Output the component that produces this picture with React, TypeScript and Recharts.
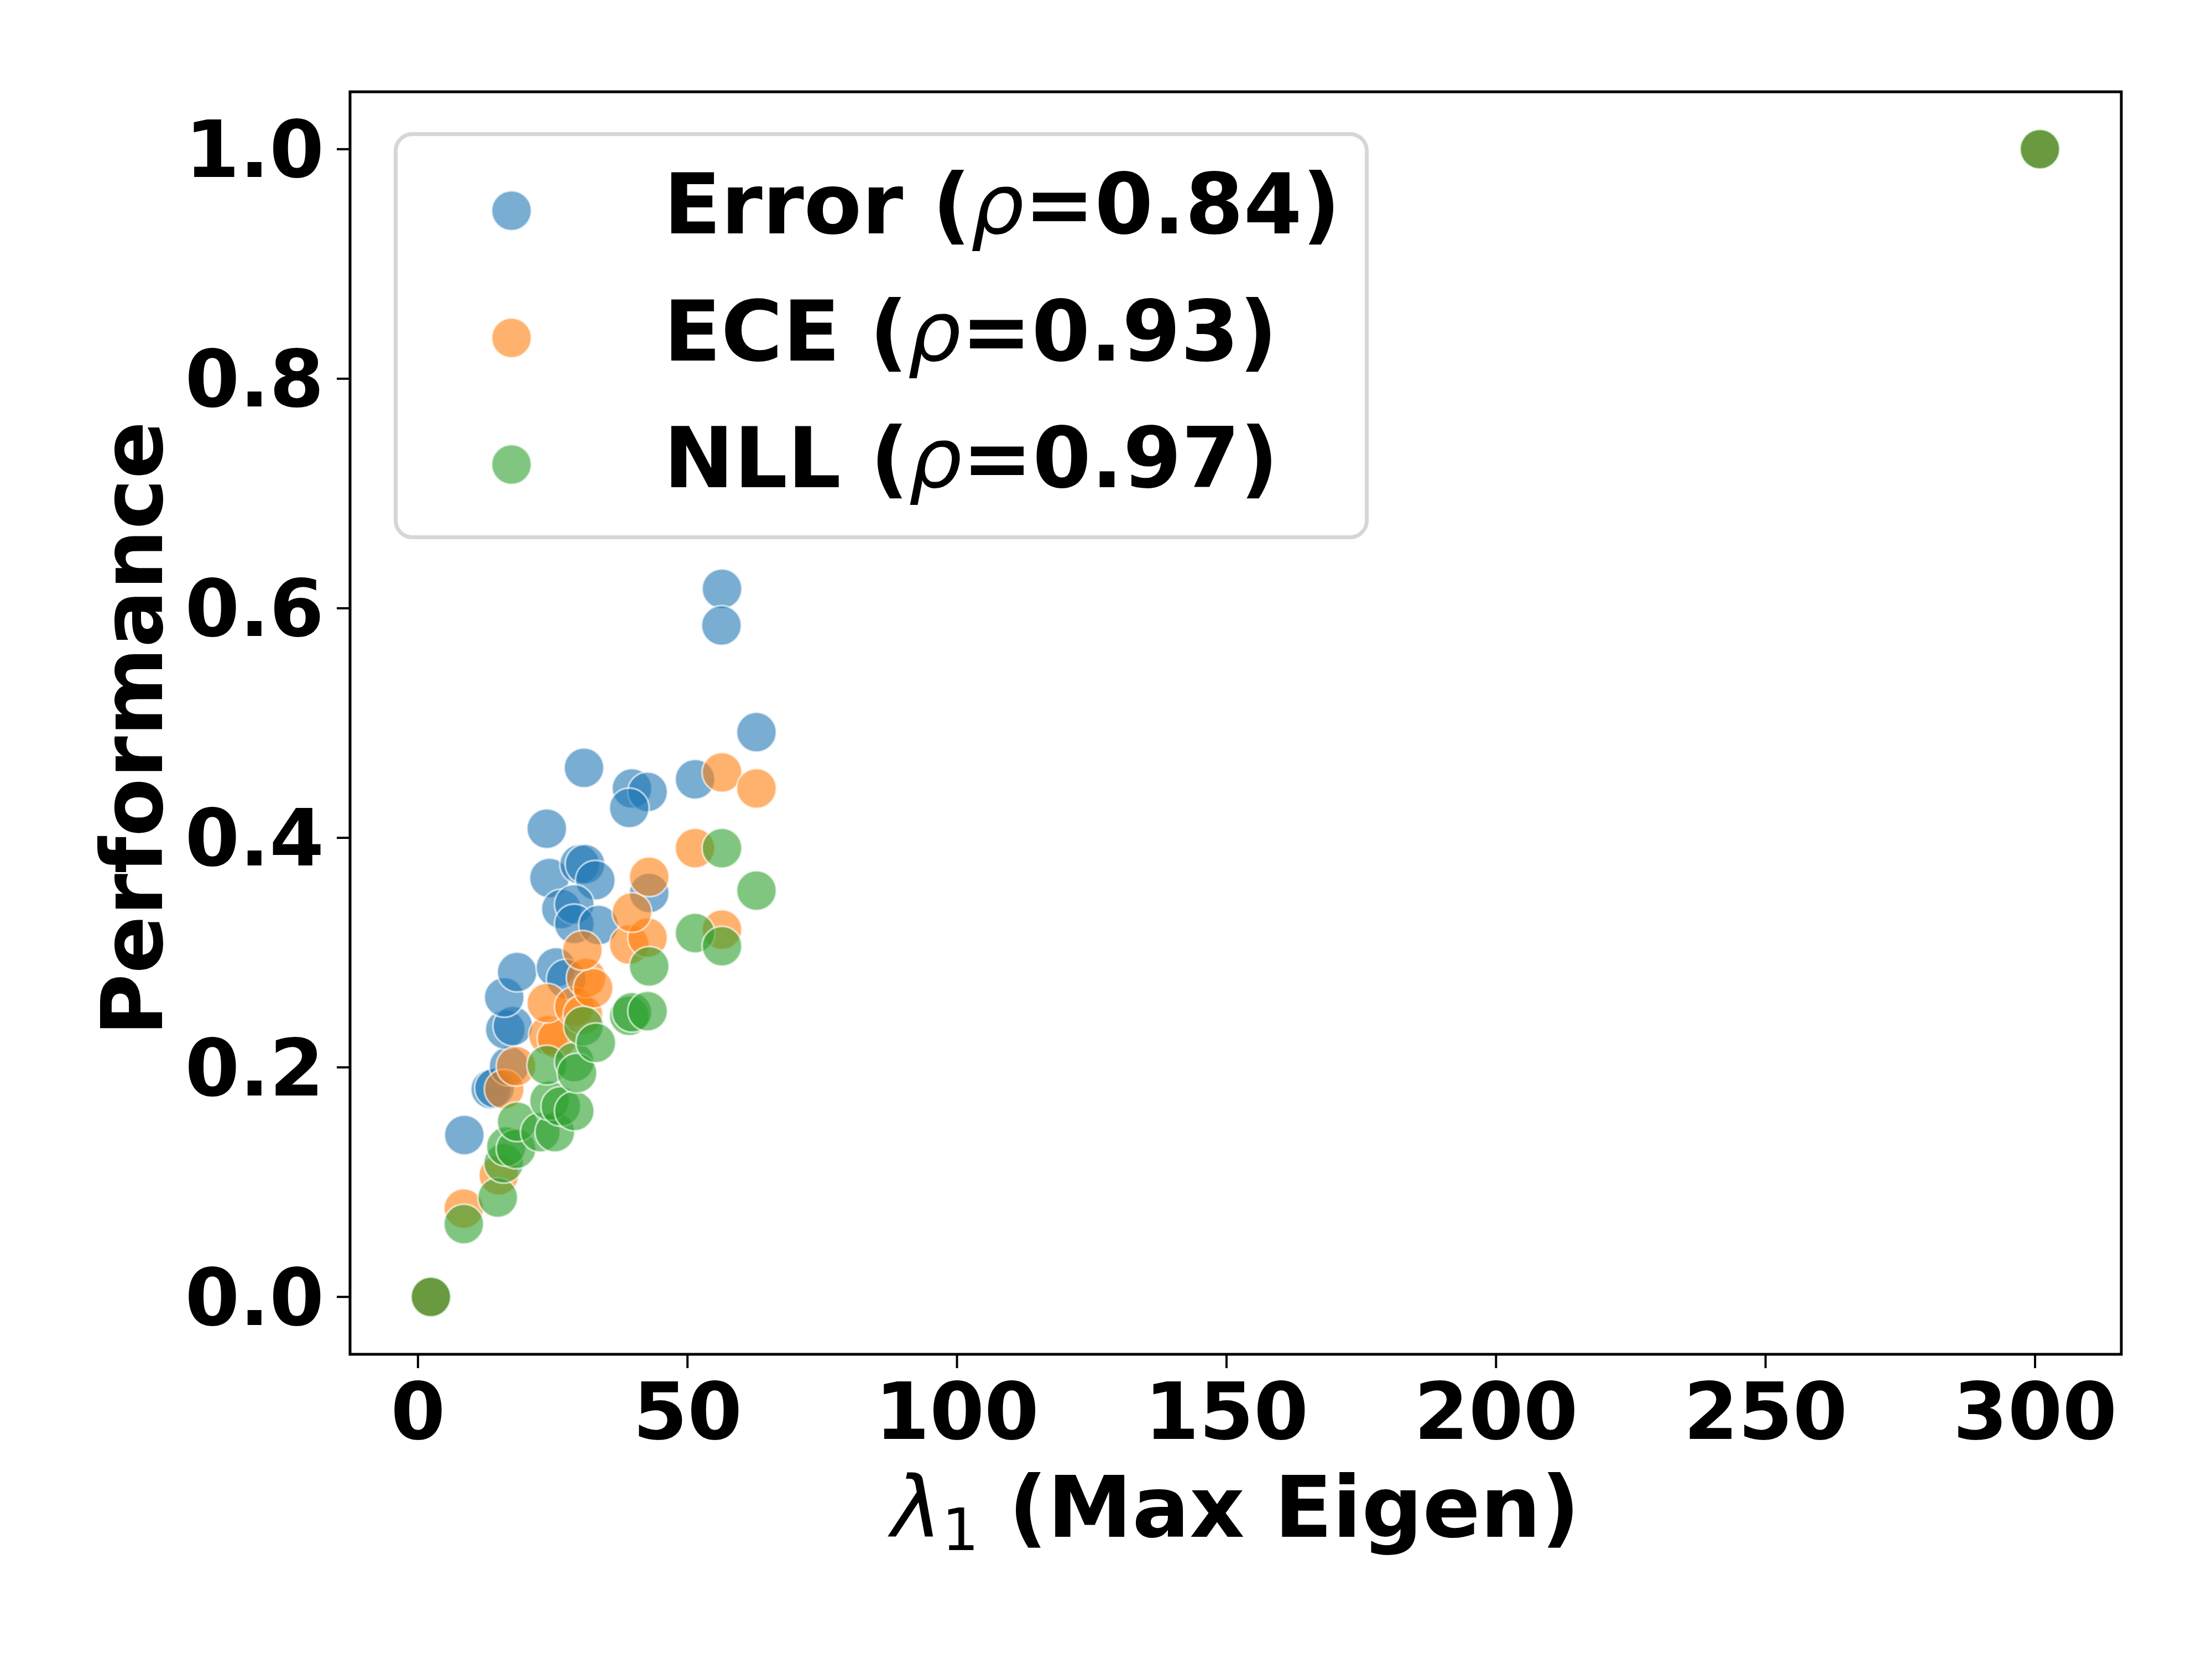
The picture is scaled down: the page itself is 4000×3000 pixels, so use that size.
import React from 'react';
import { ScatterChart, Scatter, XAxis, YAxis, ReferenceArea } from 'recharts';

// [lambda_1, normalised metric]
const errorPoints = [
  [2.4, 0], [8.6, 0.141], [13.5, 0.181], [14.2, 0.182], [16.9, 0.201], [16.2, 0.233],
  [17.6, 0.236], [16.0, 0.261], [18.4, 0.283], [25.6, 0.287], [27.5, 0.277], [23.9, 0.408],
  [24.4, 0.365], [30.0, 0.377], [31.0, 0.377], [32.9, 0.363], [26.6, 0.338], [29.0, 0.342],
  [29.0, 0.325], [33.5, 0.324], [30.8, 0.461], [39.7, 0.443], [42.6, 0.44], [39.2, 0.426],
  [42.9, 0.352], [51.4, 0.451], [56.4, 0.617], [56.3, 0.585], [62.8, 0.492], [300.9, 1.0],
];
const ecePoints = [
  [2.4, 0], [8.5, 0.077], [15.0, 0.106], [16.0, 0.181], [18.2, 0.201], [24.2, 0.228],
  [25.8, 0.225], [23.9, 0.256], [29.0, 0.253], [30.6, 0.246], [31.2, 0.278], [32.5, 0.269],
  [30.5, 0.302], [39.2, 0.307], [42.6, 0.313], [39.7, 0.335], [42.9, 0.366], [51.4, 0.391],
  [56.4, 0.457], [62.8, 0.443], [56.4, 0.32], [300.9, 1.0],
];
const nllPoints = [
  [2.4, 0], [8.5, 0.0635], [14.8, 0.0866], [15.9, 0.1165], [16.4, 0.131], [18.2, 0.129],
  [18.4, 0.1526], [22.7, 0.1436], [25.4, 0.1436], [24.4, 0.171], [26.5, 0.166], [29.0, 0.162],
  [23.9, 0.202], [29.0, 0.2046], [29.5, 0.195], [30.7, 0.236], [33.0, 0.2214], [39.2, 0.245],
  [39.7, 0.248], [42.6, 0.249], [42.9, 0.288], [51.4, 0.317], [56.4, 0.3056], [56.4, 0.391],
  [62.8, 0.354], [300.9, 1.0],
];

const seriesNames = ['Error', 'ECE', 'NLL'];
const seriesRho = ['0.84', '0.93', '0.97'];
const seriesColors = ['#1f77b4', '#ff7f0e', '#2ca02c'];
const seriesPoints = [errorPoints, ecePoints, nllPoints];

const xTicks = [0, 50, 100, 150, 200, 250, 300];
const yTicks = [0, 0.2, 0.4, 0.6, 0.8, 1.0];
const xDomain = [-12.6, 316];
const yDomain = [-0.05, 1.05];

const FONT = '"DejaVu Sans", sans-serif';

const toRows = (pts: number[][]) => pts.map(([x, y]) => ({ x, y }));

const makeDot = (color: string) => (props: any) => (
  <circle
    cx={props.cx}
    cy={props.cy}
    r={36}
    fill={color}
    fillOpacity={0.6}
    stroke="#ffffff"
    strokeOpacity={0.6}
    strokeWidth={3.5}
  />
);

const XLabel = ({ viewBox }: any) => {
  const cx = viewBox.x + viewBox.width / 2;
  const y = viewBox.y + 330;
  return (
    <text x={cx} y={y} textAnchor="middle" fontFamily={FONT} fontSize={154} fill="#000">
      <tspan fontStyle="italic" fontWeight="normal">λ</tspan>
      <tspan fontSize={105} fontWeight="normal" dy={24}>1</tspan>
      <tspan fontWeight="bold" dy={-24}> (Max Eigen)</tspan>
    </text>
  );
};

const YLabel = ({ viewBox }: any) => {
  const x = 293;
  const y = viewBox.y + viewBox.height / 2 + 10;
  return (
    <text
      x={x}
      y={y}
      transform={`rotate(-90, ${x}, ${y})`}
      textAnchor="middle"
      fontFamily={FONT}
      fontSize={154}
      fontWeight="bold"
      fill="#000"
    >
      Performance
    </text>
  );
};

const LegendBox = () => {
  const rowY = [142, 372, 601];
  return (
    <div style={{ position: 'absolute', left: 712, top: 239 }}>
      <svg width={1763} height={736}>
        <rect
          x={3.5}
          y={3.5}
          width={1756}
          height={729}
          rx={30}
          fill="#fff"
          fillOpacity={0.8}
          stroke="#cccccc"
          strokeOpacity={0.8}
          strokeWidth={7}
        />
        {seriesNames.map((name, i) => (
          <g key={name}>
            <circle
              cx={213}
              cy={rowY[i]}
              r={36}
              fill={seriesColors[i]}
              fillOpacity={0.6}
              stroke="#fff"
              strokeOpacity={0.6}
              strokeWidth={3.5}
            />
            <text x={488} y={rowY[i] + 41} fontFamily={FONT} fontSize={152} fontWeight="bold" fill="#000">
              {name} (
              <tspan fontStyle="italic" fontWeight="normal">ρ</tspan>
              ={seriesRho[i]})
            </text>
          </g>
        ))}
      </svg>
    </div>
  );
};

export default function App() {
  const tickStyle = { fontSize: 142, fontWeight: 'bold', fill: '#000', fontFamily: FONT };
  return (
    <div style={{ position: 'absolute', left: 0, top: 0, width: 4000, height: 3000, background: '#fff' }}>
      <ScatterChart width={4000} height={3000} margin={{ top: 166, right: 164, left: 0, bottom: 0 }}>
        <XAxis
          type="number"
          dataKey="x"
          domain={xDomain}
          ticks={xTicks}
          height={551}
          tickSize={25}
          tickMargin={27}
          axisLine={false}
          tickLine={{ stroke: '#000', strokeWidth: 4 }}
          tick={tickStyle}
          label={<XLabel />}
          allowDataOverflow
        />
        <YAxis
          type="number"
          dataKey="y"
          domain={yDomain}
          ticks={yTicks}
          width={633}
          tickSize={24}
          tickMargin={23}
          axisLine={false}
          tickLine={{ stroke: '#000', strokeWidth: 4 }}
          tick={tickStyle}
          tickFormatter={(v: number) => v.toFixed(1)}
          label={<YLabel />}
          allowDataOverflow
        />
        {seriesNames.map((name, i) => (
          <Scatter
            key={name}
            name={name}
            data={toRows(seriesPoints[i])}
            shape={makeDot(seriesColors[i])}
            isAnimationActive={false}
          />
        ))}
        <ReferenceArea
          x1={xDomain[0]}
          x2={xDomain[1]}
          y1={yDomain[0]}
          y2={yDomain[1]}
          fill="none"
          stroke="#000"
          strokeWidth={5}
          fillOpacity={0}
          ifOverflow="visible"
        />
      </ScatterChart>
      <LegendBox />
    </div>
  );
}
